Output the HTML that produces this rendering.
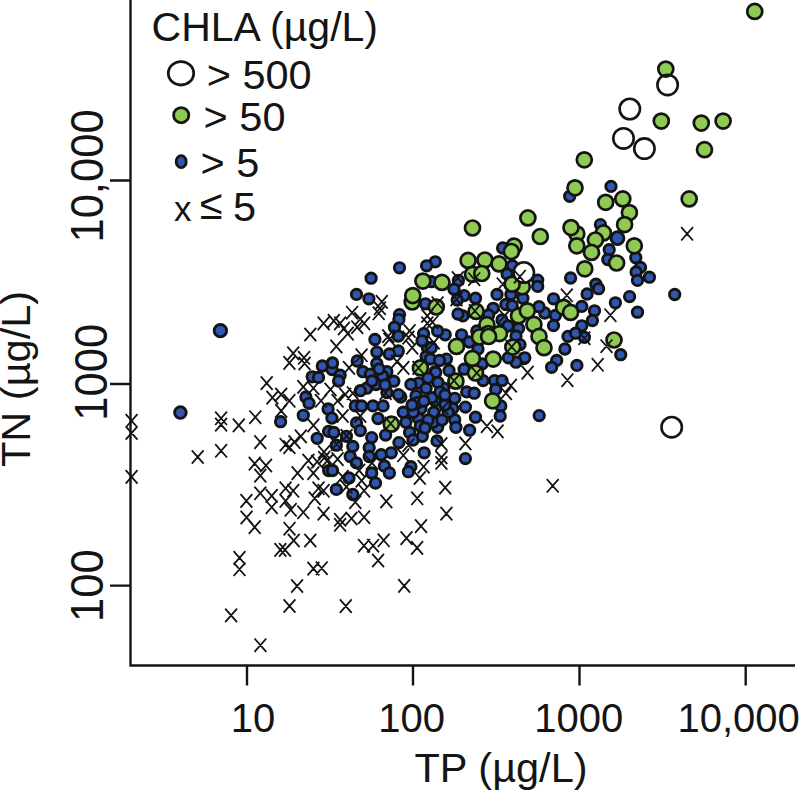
<!DOCTYPE html>
<html><head><meta charset="utf-8"><style>
html,body{margin:0;padding:0;background:#fff;width:800px;height:791px;overflow:hidden;font-family:"Liberation Sans", sans-serif;}
svg{display:block}
</style></head><body>
<svg width="800" height="791" viewBox="0 0 800 791">
<rect width="800" height="791" fill="#fff"/>
<g stroke="#141414" stroke-width="2.4" fill="none">
<path d="M130.5 0V665.5H795"/>
<path d="M110 180.5H130M110 384H130M110 585.6H130"/>
<path d="M247 665V685.5M413 665V685.5M579.5 665V685.5M745.7 665V685.5"/>
</g>
<g font-family='"Liberation Sans", sans-serif' fill="#141414" font-size="41.5">
<text x="151.6" y="40.8" font-size="41">CHLA (µg/L)</text>
<text x="206.7" y="88.7">&gt; 500</text>
<text x="203.6" y="131">&gt; 50</text>
<text x="200.4" y="177">&gt; 5</text>
<text x="174" y="221.4" font-size="35">x</text>
<text x="200" y="218.5">≤</text>
<text x="233" y="221">5</text>
<g font-size="40">
<text x="230.8" y="732">10</text>
<text x="378.2" y="732.2">100</text>
<text x="534.2" y="732.2">1000</text>
<text x="677.5" y="732.4">10,000</text>
</g>
<text x="414.5" y="782.4">TP (µg/L)</text>
<text transform="translate(29.5,467) rotate(-90)">TN (µg/L)</text>
<g font-size="43.6">
<text transform="translate(102.9,242.6) scale(1.06,1) rotate(-90)">10,000</text>
<text transform="translate(106.9,420.8) scale(1.06,1) rotate(-90)">1000</text>
<text transform="translate(102.5,621.9) scale(1.06,1) rotate(-90)">100</text>
</g>
</g>
<g stroke="#141414" stroke-width="2.8">
<ellipse cx="181" cy="73.3" rx="12.7" ry="11.7" fill="#fff"/>
<circle cx="181.2" cy="115.2" r="7.6" fill="#8fcb52"/>
<ellipse cx="181.2" cy="161.7" rx="5" ry="6" fill="#2f56b0"/>
</g>
<g stroke="#141414" stroke-width="2.7" fill="#8fcb52"><circle cx="412.2" cy="302.0" r="7.5"/></g>
<g stroke="#141414" stroke-width="2.9" fill="#2f56b0"><circle cx="569.7" cy="196.3" r="5.2"/><circle cx="611.0" cy="186.4" r="5.2"/><circle cx="600.4" cy="224.6" r="5.2"/><circle cx="609.2" cy="249.7" r="5.2"/><circle cx="607.8" cy="259.5" r="5.2"/><circle cx="635.8" cy="257.7" r="5.2"/><circle cx="640.5" cy="267.4" r="5.2"/><circle cx="636.1" cy="271.9" r="5.2"/><circle cx="649.4" cy="277.2" r="5.2"/><circle cx="570.6" cy="278.0" r="5.2"/><circle cx="435.3" cy="261.8" r="5.2"/><circle cx="502.6" cy="248.0" r="5.2"/><circle cx="512.3" cy="265.7" r="5.2"/><circle cx="507.1" cy="274.1" r="5.2"/><circle cx="431.3" cy="281.7" r="5.2"/><circle cx="458.4" cy="280.5" r="5.2"/><circle cx="454.0" cy="289.3" r="5.2"/><circle cx="464.1" cy="295.6" r="5.2"/><circle cx="475.5" cy="298.2" r="5.2"/><circle cx="457.2" cy="300.0" r="5.2"/><circle cx="497.0" cy="294.4" r="5.2"/><circle cx="510.9" cy="294.4" r="5.2"/><circle cx="522.9" cy="298.2" r="5.2"/><circle cx="462.9" cy="315.9" r="5.2"/><circle cx="458.0" cy="314.0" r="5.2"/><circle cx="493.2" cy="308.3" r="5.2"/><circle cx="505.9" cy="304.5" r="5.2"/><circle cx="512.2" cy="305.7" r="5.2"/><circle cx="502.0" cy="320.0" r="5.2"/><circle cx="508.0" cy="326.0" r="5.2"/><circle cx="518.5" cy="328.5" r="5.2"/><circle cx="516.0" cy="336.0" r="5.2"/><circle cx="445.2" cy="334.8" r="5.2"/><circle cx="437.6" cy="331.0" r="5.2"/><circle cx="461.6" cy="334.8" r="5.2"/><circle cx="476.8" cy="331.0" r="5.2"/><circle cx="637.5" cy="280.4" r="5.2"/><circle cx="595.9" cy="284.2" r="5.2"/><circle cx="598.6" cy="288.7" r="5.2"/><circle cx="587.1" cy="294.0" r="5.2"/><circle cx="629.6" cy="296.6" r="5.2"/><circle cx="674.7" cy="294.5" r="5.2"/><circle cx="615.4" cy="302.8" r="5.2"/><circle cx="581.8" cy="306.4" r="5.2"/><circle cx="594.5" cy="310.8" r="5.2"/><circle cx="592.4" cy="320.5" r="5.2"/><circle cx="637.5" cy="312.2" r="5.2"/><circle cx="581.8" cy="325.8" r="5.2"/><circle cx="584.4" cy="337.3" r="5.2"/><circle cx="620.7" cy="354.7" r="5.2"/><circle cx="537.7" cy="280.1" r="5.2"/><circle cx="537.7" cy="286.4" r="5.2"/><circle cx="553.5" cy="298.8" r="5.2"/><circle cx="544.7" cy="313.0" r="5.2"/><circle cx="555.4" cy="315.5" r="5.2"/><circle cx="553.5" cy="325.6" r="5.2"/><circle cx="539.0" cy="306.7" r="5.2"/><circle cx="568.0" cy="336.4" r="5.2"/><circle cx="575.6" cy="333.2" r="5.2"/><circle cx="564.9" cy="349.0" r="5.2"/><circle cx="556.7" cy="360.4" r="5.2"/><circle cx="551.6" cy="367.3" r="5.2"/><circle cx="576.9" cy="365.4" r="5.2"/><circle cx="523.8" cy="358.5" r="5.2"/><circle cx="520.0" cy="344.6" r="5.2"/><circle cx="539.2" cy="415.6" r="5.2"/><circle cx="399.5" cy="267.8" r="5.2"/><circle cx="371.1" cy="278.2" r="5.2"/><circle cx="356.5" cy="294.4" r="5.2"/><circle cx="368.9" cy="298.8" r="5.2"/><circle cx="426.6" cy="265.8" r="5.2"/><circle cx="425.4" cy="303.8" r="5.2"/><circle cx="399.5" cy="314.6" r="5.2"/><circle cx="398.9" cy="319.6" r="5.2"/><circle cx="394.5" cy="327.2" r="5.2"/><circle cx="398.3" cy="336.1" r="5.2"/><circle cx="423.6" cy="333.6" r="5.2"/><circle cx="374.9" cy="339.5" r="5.2"/><circle cx="322.3" cy="366.0" r="5.2"/><circle cx="332.1" cy="363.5" r="5.2"/><circle cx="332.1" cy="369.6" r="5.2"/><circle cx="340.1" cy="375.2" r="5.2"/><circle cx="312.2" cy="376.8" r="5.2"/><circle cx="318.5" cy="377.4" r="5.2"/><circle cx="305.9" cy="397.0" r="5.2"/><circle cx="309.0" cy="403.3" r="5.2"/><circle cx="328.1" cy="409.0" r="5.2"/><circle cx="331.9" cy="418.1" r="5.2"/><circle cx="303.3" cy="415.3" r="5.2"/><circle cx="280.6" cy="421.7" r="5.2"/><circle cx="220.4" cy="330.7" r="6.2"/><circle cx="180.4" cy="412.6" r="5.8"/><circle cx="317.2" cy="438.3" r="5.2"/><circle cx="328.6" cy="470.6" r="5.2"/><circle cx="328.6" cy="431.4" r="5.2"/><circle cx="376.8" cy="352.1" r="5.2"/><circle cx="376.8" cy="363.5" r="5.2"/><circle cx="398.3" cy="350.9" r="5.2"/><circle cx="389.4" cy="354.0" r="5.2"/><circle cx="357.2" cy="361.0" r="5.2"/><circle cx="332.5" cy="362.9" r="5.2"/><circle cx="338.6" cy="381.0" r="5.2"/><circle cx="362.9" cy="371.7" r="5.2"/><circle cx="370.5" cy="374.2" r="5.2"/><circle cx="379.3" cy="376.8" r="5.2"/><circle cx="386.9" cy="371.7" r="5.2"/><circle cx="393.8" cy="381.2" r="5.2"/><circle cx="366.7" cy="388.2" r="5.2"/><circle cx="360.3" cy="390.7" r="5.2"/><circle cx="386.9" cy="392.6" r="5.2"/><circle cx="400.8" cy="397.0" r="5.2"/><circle cx="416.0" cy="395.7" r="5.2"/><circle cx="418.5" cy="383.1" r="5.2"/><circle cx="426.1" cy="388.2" r="5.2"/><circle cx="410.9" cy="384.4" r="5.2"/><circle cx="427.3" cy="347.7" r="5.2"/><circle cx="426.1" cy="356.5" r="5.2"/><circle cx="355.3" cy="405.9" r="5.2"/><circle cx="361.6" cy="405.9" r="5.2"/><circle cx="373.0" cy="405.9" r="5.2"/><circle cx="383.1" cy="405.9" r="5.2"/><circle cx="378.0" cy="418.5" r="5.2"/><circle cx="356.5" cy="422.9" r="5.2"/><circle cx="403.3" cy="412.2" r="5.2"/><circle cx="405.9" cy="422.3" r="5.2"/><circle cx="418.5" cy="418.5" r="5.2"/><circle cx="421.0" cy="408.4" r="5.2"/><circle cx="469.2" cy="342.0" r="5.2"/><circle cx="524.8" cy="357.8" r="5.2"/><circle cx="516.0" cy="362.2" r="5.2"/><circle cx="508.4" cy="357.8" r="5.2"/><circle cx="494.5" cy="380.6" r="5.2"/><circle cx="502.1" cy="380.6" r="5.2"/><circle cx="495.7" cy="389.4" r="5.2"/><circle cx="500.8" cy="405.9" r="5.2"/><circle cx="500.2" cy="416.0" r="5.2"/><circle cx="475.5" cy="417.2" r="5.2"/><circle cx="465.4" cy="407.1" r="5.2"/><circle cx="454.7" cy="398.3" r="5.2"/><circle cx="452.8" cy="408.4" r="5.2"/><circle cx="454.7" cy="419.8" r="5.2"/><circle cx="455.9" cy="427.3" r="5.2"/><circle cx="437.6" cy="427.3" r="5.2"/><circle cx="433.8" cy="412.2" r="5.2"/><circle cx="435.1" cy="400.8" r="5.2"/><circle cx="435.1" cy="371.7" r="5.2"/><circle cx="446.4" cy="359.1" r="5.2"/><circle cx="449.0" cy="370.5" r="5.2"/><circle cx="464.1" cy="369.2" r="5.2"/><circle cx="466.7" cy="391.9" r="5.2"/><circle cx="474.2" cy="393.2" r="5.2"/><circle cx="483.1" cy="380.6" r="5.2"/><circle cx="443.9" cy="388.2" r="5.2"/><circle cx="469.6" cy="430.2" r="5.2"/><circle cx="431.3" cy="347.7" r="5.2"/><circle cx="333.8" cy="432.5" r="5.2"/><circle cx="346.4" cy="436.3" r="5.2"/><circle cx="360.3" cy="430.6" r="5.2"/><circle cx="371.7" cy="437.6" r="5.2"/><circle cx="385.6" cy="435.1" r="5.2"/><circle cx="409.6" cy="432.5" r="5.2"/><circle cx="422.3" cy="436.3" r="5.2"/><circle cx="398.9" cy="442.6" r="5.2"/><circle cx="352.8" cy="446.4" r="5.2"/><circle cx="336.3" cy="445.2" r="5.2"/><circle cx="369.2" cy="447.7" r="5.2"/><circle cx="350.2" cy="456.5" r="5.2"/><circle cx="356.5" cy="462.9" r="5.2"/><circle cx="369.2" cy="456.5" r="5.2"/><circle cx="381.2" cy="454.7" r="5.2"/><circle cx="391.3" cy="452.8" r="5.2"/><circle cx="424.2" cy="452.8" r="5.2"/><circle cx="384.4" cy="466.0" r="5.2"/><circle cx="389.4" cy="473.0" r="5.2"/><circle cx="371.7" cy="473.0" r="5.2"/><circle cx="410.9" cy="466.7" r="5.2"/><circle cx="408.4" cy="471.7" r="5.2"/><circle cx="332.5" cy="470.5" r="5.2"/><circle cx="349.0" cy="478.0" r="5.2"/><circle cx="375.5" cy="483.1" r="5.2"/><circle cx="336.3" cy="489.4" r="5.2"/><circle cx="352.8" cy="494.5" r="5.2"/><circle cx="437.0" cy="440.9" r="5.2"/><circle cx="465.4" cy="458.6" r="5.2"/><circle cx="430.3" cy="359.0" r="5.2"/><circle cx="439.5" cy="360.5" r="5.2"/><circle cx="435.7" cy="372.6" r="5.2"/><circle cx="437.9" cy="382.5" r="5.2"/><circle cx="431.9" cy="397.7" r="5.2"/><circle cx="422.0" cy="340.8" r="5.2"/><circle cx="440.0" cy="392.0" r="5.2"/><circle cx="428.0" cy="378.0" r="5.2"/><circle cx="382.5" cy="376.0" r="5.2"/><circle cx="376.0" cy="384.5" r="5.2"/><circle cx="372.0" cy="381.0" r="5.2"/><circle cx="385.0" cy="385.0" r="5.2"/><circle cx="379.0" cy="369.0" r="5.2"/><circle cx="398.4" cy="394.6" r="5.2"/><circle cx="417.9" cy="402.5" r="5.2"/><circle cx="433.1" cy="422.2" r="5.2"/><circle cx="448.2" cy="412.3" r="5.2"/><circle cx="413.3" cy="412.3" r="5.2"/><circle cx="420.2" cy="426.0" r="5.2"/><circle cx="424.0" cy="401.0" r="5.2"/><circle cx="412.0" cy="405.0" r="5.2"/><circle cx="428.0" cy="420.0" r="5.2"/><circle cx="445.0" cy="405.0" r="5.2"/><circle cx="442.0" cy="420.0" r="5.2"/><circle cx="425.0" cy="428.0" r="5.2"/><circle cx="413.0" cy="440.0" r="5.2"/><circle cx="445.0" cy="395.0" r="5.2"/><circle cx="488.6" cy="315.0" r="5.2"/><circle cx="478.0" cy="349.0" r="5.2"/><circle cx="482.0" cy="364.0" r="5.2"/></g>
<g stroke="#141414" stroke-width="2.7" fill="#8fcb52"><circle cx="754.7" cy="11.4" r="7.5"/><circle cx="665.8" cy="69.1" r="7.5"/><circle cx="661.3" cy="121.1" r="7.5"/><circle cx="701.3" cy="123.1" r="7.5"/><circle cx="723.1" cy="121.1" r="7.5"/><circle cx="704.5" cy="149.7" r="7.5"/><circle cx="584.3" cy="159.8" r="7.5"/><circle cx="575.0" cy="187.8" r="7.5"/><circle cx="605.7" cy="202.3" r="7.5"/><circle cx="622.8" cy="198.9" r="7.5"/><circle cx="629.4" cy="212.6" r="7.5"/><circle cx="624.6" cy="224.6" r="7.5"/><circle cx="576.8" cy="233.8" r="7.5"/><circle cx="571.0" cy="227.6" r="7.5"/><circle cx="603.4" cy="232.9" r="7.5"/><circle cx="595.4" cy="240.0" r="7.5"/><circle cx="576.8" cy="245.8" r="7.5"/><circle cx="591.5" cy="252.4" r="7.5"/><circle cx="616.6" cy="263.0" r="7.5"/><circle cx="634.3" cy="245.8" r="7.5"/><circle cx="584.8" cy="268.8" r="7.5"/><circle cx="689.2" cy="198.9" r="7.5"/><circle cx="472.5" cy="228.0" r="7.5"/><circle cx="527.9" cy="217.9" r="7.5"/><circle cx="540.3" cy="236.5" r="7.5"/><circle cx="514.1" cy="246.2" r="7.5"/><circle cx="511.4" cy="251.5" r="7.5"/><circle cx="468.1" cy="260.4" r="7.5"/><circle cx="484.9" cy="260.0" r="7.5"/><circle cx="499.0" cy="263.9" r="7.5"/><circle cx="472.5" cy="274.3" r="7.5"/><circle cx="481.8" cy="273.5" r="7.5"/><circle cx="442.0" cy="282.4" r="7.5"/><circle cx="522.3" cy="286.8" r="7.5"/><circle cx="512.2" cy="284.2" r="7.5"/><circle cx="436.3" cy="307.0" r="7.5"/><circle cx="476.1" cy="311.4" r="7.5"/><circle cx="518.5" cy="315.9" r="7.5"/><circle cx="527.3" cy="310.8" r="7.5"/><circle cx="486.9" cy="324.7" r="7.5"/><circle cx="488.2" cy="333.6" r="7.5"/><circle cx="499.5" cy="333.6" r="7.5"/><circle cx="614.0" cy="340.0" r="7.5"/><circle cx="563.6" cy="307.3" r="7.5"/><circle cx="570.6" cy="312.4" r="7.5"/><circle cx="533.9" cy="324.4" r="7.5"/><circle cx="539.0" cy="336.4" r="7.5"/><circle cx="544.0" cy="347.7" r="7.5"/><circle cx="422.9" cy="281.1" r="7.5"/><circle cx="412.8" cy="295.6" r="7.5"/><circle cx="420.4" cy="367.9" r="7.5"/><circle cx="391.3" cy="424.2" r="7.5"/><circle cx="479.5" cy="337.0" r="7.5"/><circle cx="456.5" cy="346.4" r="7.5"/><circle cx="472.4" cy="358.4" r="7.5"/><circle cx="493.2" cy="359.1" r="7.5"/><circle cx="512.8" cy="347.1" r="7.5"/><circle cx="475.5" cy="373.0" r="7.5"/><circle cx="455.9" cy="381.2" r="7.5"/><circle cx="492.6" cy="400.8" r="7.5"/><circle cx="488.6" cy="336.5" r="7.5"/></g>
<g stroke="#141414" stroke-width="2.9" fill="#2f56b0"><circle cx="617.5" cy="238.2" r="6.4"/></g>
<g stroke="#141414" stroke-width="2.6" fill="none"><circle cx="667.6" cy="84.9" r="10.2"/><circle cx="629.8" cy="109.0" r="10.2"/><circle cx="623.5" cy="138.4" r="10.2"/><circle cx="644.4" cy="148.6" r="10.2"/><circle cx="671.7" cy="427.2" r="10.2"/></g>
<g stroke="#141414" stroke-width="2.6" fill="#fff"><circle cx="523.8" cy="272.5" r="10.2"/></g>
<g stroke="#141414" stroke-width="1.8" fill="none"><path d="M681.2 227.1L693.0 240.5M693.0 227.1L681.2 240.5M468.3 272.5L480.1 285.9M480.1 272.5L468.3 285.9M513.9 270.0L525.7 283.4M525.7 270.0L513.9 283.4M451.9 271.3L463.7 284.7M463.7 271.3L451.9 284.7M450.6 292.7L462.4 306.1M462.4 292.7L450.6 306.1M496.8 277.5L508.6 290.9M508.6 277.5L496.8 290.9M431.7 296.5L443.5 309.9M443.5 296.5L431.7 309.9M469.0 304.1L480.8 317.5M480.8 304.1L469.0 317.5M498.7 309.2L510.5 322.6M510.5 309.2L498.7 322.6M426.6 315.5L438.4 328.9M438.4 315.5L426.6 328.9M604.5 308.5L616.3 321.9M616.3 308.5L604.5 321.9M578.5 331.5L590.3 344.9M590.3 331.5L578.5 344.9M600.6 339.5L612.4 352.9M612.4 339.5L600.6 352.9M591.8 358.1L603.6 371.5M603.6 358.1L591.8 371.5M560.9 288.6L572.7 302.0M572.7 288.6L560.9 302.0M521.7 365.9L533.5 379.3M533.5 365.9L521.7 379.3M561.5 373.5L573.3 386.9M573.3 373.5L561.5 386.9M375.9 295.2L387.7 308.6M387.7 295.2L375.9 308.6M374.0 301.6L385.8 315.0M385.8 301.6L374.0 315.0M372.8 306.6L384.6 320.0M384.6 306.6L372.8 320.0M346.2 306.0L358.0 319.4M358.0 306.0L346.2 319.4M334.2 316.7L346.0 330.1M346.0 316.7L334.2 330.1M354.4 312.3L366.2 325.7M366.2 312.3L354.4 325.7M358.2 316.7L370.0 330.1M370.0 316.7L358.2 330.1M351.3 320.5L363.1 333.9M363.1 320.5L351.3 333.9M338.0 321.8L349.8 335.2M349.8 321.8L338.0 335.2M341.8 326.9L353.6 340.3M353.6 326.9L341.8 340.3M327.9 314.2L339.7 327.6M339.7 314.2L327.9 327.6M403.7 324.3L415.5 337.7M415.5 324.3L403.7 337.7M382.3 329.4L394.1 342.8M394.1 329.4L382.3 342.8M421.4 309.2L433.2 322.6M433.2 309.2L421.4 322.6M421.4 316.7L433.2 330.1M433.2 316.7L421.4 330.1M317.7 316.7L329.5 330.1M329.5 316.7L317.7 330.1M304.4 327.8L316.2 341.2M316.2 327.8L304.4 341.2M287.3 346.7L299.1 360.1M299.1 346.7L287.3 360.1M283.5 356.2L295.3 369.6M295.3 356.2L283.5 369.6M298.1 351.1L309.9 364.5M309.9 351.1L298.1 364.5M298.7 356.8L310.5 370.2M310.5 356.8L298.7 370.2M260.8 376.4L272.6 389.8M272.6 376.4L260.8 389.8M266.5 390.9L278.3 404.3M278.3 390.9L266.5 404.3M275.3 387.8L287.1 401.2M287.1 387.8L275.3 401.2M283.5 394.1L295.3 407.5M295.3 394.1L283.5 407.5M275.3 404.2L287.1 417.6M287.1 404.2L275.3 417.6M249.4 410.5L261.2 423.9M261.2 410.5L249.4 423.9M232.9 418.7L244.7 432.1M244.7 418.7L232.9 432.1M297.4 380.2L309.2 393.6M309.2 380.2L297.4 393.6M307.5 381.5L319.3 394.9M319.3 381.5L307.5 394.9M315.1 394.1L326.9 407.5M326.9 394.1L315.1 407.5M324.6 382.8L336.4 396.2M336.4 382.8L324.6 396.2M307.5 418.7L319.3 432.1M319.3 418.7L307.5 432.1M215.2 411.6L227.0 425.0M227.0 411.6L215.2 425.0M215.2 417.9L227.0 431.3M227.0 417.9L215.2 431.3M125.7 414.1L137.5 427.5M137.5 414.1L125.7 427.5M125.7 426.3L137.5 439.7M137.5 426.3L125.7 439.7M125.7 470.2L137.5 483.6M137.5 470.2L125.7 483.6M215.2 444.1L227.0 457.5M227.0 444.1L215.2 457.5M191.8 450.3L203.6 463.7M203.6 450.3L191.8 463.7M233.6 551.2L245.4 564.6M245.4 551.2L233.6 564.6M233.6 562.6L245.4 576.0M245.4 562.6L233.6 576.0M225.2 608.7L237.0 622.1M237.0 608.7L225.2 622.1M254.5 638.5L266.3 651.9M266.3 638.5L254.5 651.9M291.2 579.3L303.0 592.7M303.0 579.3L291.2 592.7M283.6 599.3L295.4 612.7M295.4 599.3L283.6 612.7M274.5 543.2L286.3 556.6M286.3 543.2L274.5 556.6M279.1 543.2L290.9 556.6M290.9 543.2L279.1 556.6M254.4 435.4L266.2 448.8M266.2 435.4L254.4 448.8M279.7 438.0L291.5 451.4M291.5 438.0L279.7 451.4M283.5 440.5L295.3 453.9M295.3 440.5L283.5 453.9M288.6 435.4L300.4 448.8M300.4 435.4L288.6 448.8M294.9 429.7L306.7 443.1M306.7 429.7L294.9 443.1M248.8 456.9L260.6 470.3M260.6 456.9L248.8 470.3M260.1 458.8L271.9 472.2M271.9 458.8L260.1 472.2M254.4 468.9L266.2 482.3M266.2 468.9L254.4 482.3M254.4 486.6L266.2 500.0M266.2 486.6L254.4 500.0M240.5 494.2L252.3 507.6M252.3 494.2L240.5 507.6M240.7 510.8L252.5 524.2M252.5 510.8L240.7 524.2M265.8 489.2L277.6 502.6M277.6 489.2L265.8 502.6M265.8 500.5L277.6 513.9M277.6 500.5L265.8 513.9M291.7 466.4L303.5 479.8M303.5 466.4L291.7 479.8M302.5 453.8L314.3 467.2M314.3 453.8L302.5 467.2M311.3 455.0L323.1 468.4M323.1 455.0L311.3 468.4M307.5 466.4L319.3 479.8M319.3 466.4L307.5 479.8M318.3 451.2L330.1 464.6M330.1 451.2L318.3 464.6M279.7 481.6L291.5 495.0M291.5 481.6L279.7 495.0M287.3 484.1L299.1 497.5M299.1 484.1L287.3 497.5M279.7 494.2L291.5 507.6M291.5 494.2L279.7 507.6M284.8 503.1L296.6 516.5M296.6 503.1L284.8 516.5M297.4 505.6L309.2 519.0M309.2 505.6L297.4 519.0M312.6 481.6L324.4 495.0M324.4 481.6L312.6 495.0M308.8 491.7L320.6 505.1M320.6 491.7L308.8 505.1M317.7 484.1L329.5 497.5M329.5 484.1L317.7 497.5M317.7 506.9L329.5 520.3M329.5 506.9L317.7 520.3M330.4 339.7L342.2 353.1M342.2 339.7L330.4 353.1M383.5 332.8L395.3 346.2M395.3 332.8L383.5 346.2M402.5 330.9L414.3 344.3M414.3 330.9L402.5 344.3M406.3 341.0L418.1 354.4M418.1 341.0L406.3 354.4M355.7 348.6L367.5 362.0M367.5 348.6L355.7 362.0M343.1 361.2L354.9 374.6M354.9 361.2L343.1 374.6M397.4 361.2L409.2 374.6M409.2 361.2L397.4 374.6M339.3 387.8L351.1 401.2M351.1 387.8L339.3 401.2M331.7 394.1L343.5 407.5M343.5 394.1L331.7 407.5M346.9 386.5L358.7 399.9M358.7 386.5L346.9 399.9M354.4 409.3L366.2 422.7M366.2 409.3L354.4 422.7M336.7 409.3L348.5 422.7M348.5 409.3L336.7 422.7M391.1 354.9L402.9 368.3M402.9 354.9L391.1 368.3M379.7 386.5L391.5 399.9M391.5 386.5L379.7 399.9M384.8 416.9L396.6 430.3M396.6 416.9L384.8 430.3M412.6 361.2L424.4 374.6M424.4 361.2L412.6 374.6M505.0 378.9L516.8 392.3M516.8 378.9L505.0 392.3M500.0 386.5L511.8 399.9M511.8 386.5L500.0 399.9M481.0 419.4L492.8 432.8M492.8 419.4L481.0 432.8M491.7 424.7L503.5 438.1M503.5 424.7L491.7 438.1M436.7 401.7L448.5 415.1M448.5 401.7L436.7 415.1M448.1 373.9L459.9 387.3M459.9 373.9L448.1 387.3M470.9 366.3L482.7 379.7M482.7 366.3L470.9 379.7M427.9 335.9L439.7 349.3M439.7 335.9L427.9 349.3M380.4 494.7L392.2 508.1M392.2 494.7L380.4 508.1M411.3 491.6L423.1 505.0M423.1 491.6L411.3 505.0M413.9 471.3L425.7 484.7M425.7 471.3L413.9 484.7M417.7 460.0L429.5 473.4M429.5 460.0L417.7 473.4M397.4 448.6L409.2 462.0M409.2 448.6L397.4 462.0M402.5 438.5L414.3 451.9M414.3 438.5L402.5 451.9M331.7 452.4L343.5 465.8M343.5 452.4L331.7 465.8M336.7 470.1L348.5 483.5M348.5 470.1L336.7 483.5M355.7 473.9L367.5 487.3M367.5 473.9L355.7 487.3M358.2 484.0L370.0 497.4M370.0 484.0L358.2 497.4M349.4 495.4L361.2 508.8M361.2 495.4L349.4 508.8M358.2 510.5L370.0 523.9M370.0 510.5L358.2 523.9M345.6 511.8L357.4 525.2M357.4 511.8L345.6 525.2M334.2 513.1L346.0 526.5M346.0 513.1L334.2 526.5M334.2 518.1L346.0 531.5M346.0 518.1L334.2 531.5M415.1 519.4L426.9 532.8M426.9 519.4L415.1 532.8M353.2 463.8L365.0 477.2M365.0 463.8L353.2 477.2M340.5 480.2L352.3 493.6M352.3 480.2L340.5 493.6M459.5 436.7L471.3 450.1M471.3 436.7L459.5 450.1M435.5 437.3L447.3 450.7M447.3 437.3L435.5 450.7M435.5 450.8L447.3 464.2M447.3 450.8L435.5 464.2M435.5 456.3L447.3 469.7M447.3 456.3L435.5 469.7M439.3 480.9L451.1 494.3M451.1 480.9L439.3 494.3M440.5 506.9L452.3 520.3M452.3 506.9L440.5 520.3M358.1 539.0L369.9 552.4M369.9 539.0L358.1 552.4M367.2 539.0L379.0 552.4M379.0 539.0L367.2 552.4M377.8 533.6L389.6 547.0M389.6 533.6L377.8 547.0M372.2 553.8L384.0 567.2M384.0 553.8L372.2 567.2M400.6 531.4L412.4 544.8M412.4 531.4L400.6 544.8M411.2 541.2L423.0 554.6M423.0 541.2L411.2 554.6M398.3 579.2L410.1 592.6M410.1 579.2L398.3 592.6M339.9 599.4L351.7 612.8M351.7 599.4L339.9 612.8M283.6 522.0L295.4 535.4M295.4 522.0L283.6 535.4M287.8 533.8L299.6 547.2M299.6 533.8L287.8 547.2M304.4 533.8L316.2 547.2M316.2 533.8L304.4 547.2M307.5 561.9L319.3 575.3M319.3 561.9L307.5 575.3M315.8 561.5L327.6 574.9M327.6 561.5L315.8 574.9M546.8 479.1L558.6 492.5M558.6 479.1L546.8 492.5M248.8 520.4L260.6 533.8M260.6 520.4L248.8 533.8M505.7 340.1L517.5 353.5M517.5 340.1L505.7 353.5M340.7 429.2L352.5 442.6M352.5 429.2L340.7 442.6M330.8 437.6L342.6 451.0M342.6 437.6L330.8 451.0M322.1 453.3L333.9 466.7M333.9 453.3L322.1 466.7M366.1 456.3L377.9 469.7M377.9 456.3L366.1 469.7M318.1 445.3L329.9 458.7M329.9 445.3L318.1 458.7"/></g>
</svg>
</body></html>
